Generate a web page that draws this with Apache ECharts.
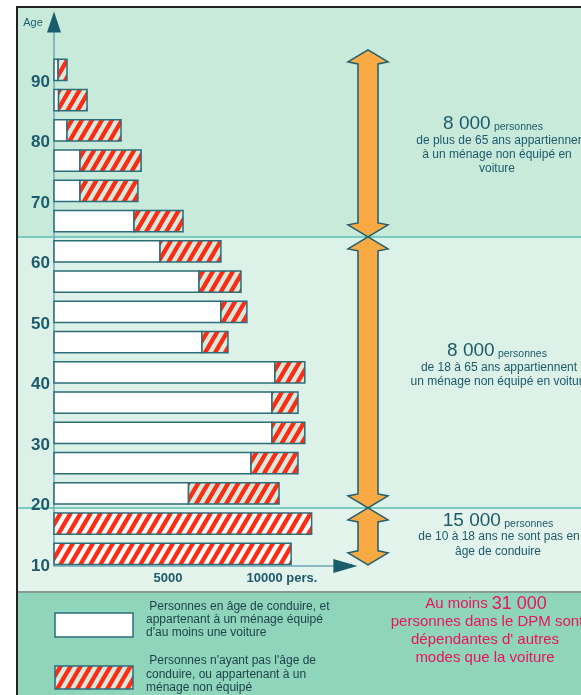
<!DOCTYPE html>
<html>
<head>
<meta charset="utf-8">
<script src="https://cdn.jsdelivr.net/npm/echarts@6/dist/echarts.min.js"></script>
<style>
html,body{margin:0;padding:0;background:#fff;}
#c{width:581px;height:695px;}
</style>
</head>
<body>
<div id="c"></div>
<script>
// ---- data (persons per 5-year age group) ----
const ageStarts = [10, 15, 20, 25, 30, 35, 40, 45, 50, 55, 60, 65, 70, 75, 80, 85, 90];
const withCar   = [0, 0, 5900, 8640, 9560, 9560, 9690, 6490, 7320, 6360, 4650, 3510, 1140, 1140, 570, 200, 180];
const withoutCar= [10400, 11300, 3970, 2060, 1440, 1140, 1310, 1140, 1140, 1840, 2670, 2150, 2540, 2680, 2370, 1250, 390];
const xTickLabels = {5000: '5000', 10000: '10000 pers.'};
const yTickValues = [10, 20, 30, 40, 50, 60, 70, 80, 90];
const groupBounds = [95.3, 64.4, 19.6, 10.2]; // ages bounding the three annotated groups

const TEAL = '#1d5a6a';
const OUTLINE = '#2d6c79';

function makeStripes(bg) {
  const w = 10, h = 17;
  const c = document.createElement('canvas');
  c.width = w; c.height = h;
  const g = c.getContext('2d');
  g.fillStyle = bg; g.fillRect(0, 0, w, h);
  g.fillStyle = '#ff2b12';
  for (const o of [-10, 0, 10]) {
    g.beginPath();
    g.moveTo(o, h); g.lineTo(o + 5, h); g.lineTo(o + 15, 0); g.lineTo(o + 10, 0);
    g.closePath(); g.fill();
  }
  return c;
}
const stripeGreen = makeStripes('#d3ecdf');
const stripeWhite = makeStripes('#ffffff');

const chart = echarts.init(document.getElementById('c'), null, {renderer: 'canvas'});

const data = ageStarts.map((a, i) => [a, withCar[i], withoutCar[i]]);

const option = {
  animation: false,
  backgroundColor: '#ffffff',
  grid: {left: 54, width: 296.4, top: 21.5, bottom: 129, containLabel: false},
  xAxis: {
    type: 'value', min: 0, max: 13000, interval: 5000,
    splitLine: {show: false},
    axisTick: {show: false},
    axisLine: {show: true, lineStyle: {color: '#6fa8b4', width: 1.5}},
    axisLabel: {
      show: true, margin: 6,
      color: TEAL, fontSize: 13, fontWeight: 'bold', fontFamily: 'Liberation Sans',
      formatter: v => xTickLabels[v] || ''
    }
  },
  yAxis: {
    type: 'value', min: 10, max: 100, interval: 10,
    splitLine: {show: false},
    axisTick: {show: false},
    axisLine: {show: true, lineStyle: {color: '#6fa8b4', width: 1.5}},
    axisLabel: {
      show: true, margin: 4,
      color: TEAL, fontSize: 17, fontWeight: 'bold', fontFamily: 'Liberation Sans',
      formatter: v => (yTickValues.indexOf(v) >= 0 ? String(v) : '')
    }
  },
  series: [{
    type: 'custom',
    z: 5,
    data: data,
    encode: {x: [1, 2], y: 0},
    renderItem: function (params, api) {
      const a = api.value(0), w = api.value(1), r = api.value(2);
      const h = api.size([0, 3.5])[1];
      const yc = api.coord([0, a + 2])[1];
      const x0 = api.coord([0, a])[0];
      const x1 = api.coord([w, a])[0];
      const x2 = api.coord([w + r, a])[0];
      const y = yc - h / 2;
      const pat = a < 20 ? stripeWhite : stripeGreen;
      const children = [];
      if (w > 0) {
        children.push({type: 'rect', shape: {x: x0, y: y, width: x1 - x0, height: h},
          style: {fill: '#ffffff', stroke: OUTLINE, lineWidth: 1.5}});
      }
      children.push({type: 'rect', shape: {x: x1, y: y, width: x2 - x1, height: h},
        style: {fill: {image: pat, repeat: 'repeat'}, stroke: OUTLINE, lineWidth: 1.5}});
      return {type: 'group', children: children};
    }
  }]
};
chart.setOption(option);

// ---- decorations placed from the axes ----
const py = age => chart.convertToPixel({gridIndex: 0}, [0, age])[1];
const px = v => chart.convertToPixel({gridIndex: 0}, [v, 10])[0];
const yTop = py(100), yOrig = py(10), xOrig = px(0), xEnd = px(13000);
const yB = groupBounds.map(py);

const W = 581, H = 695, LEFT = 17, TOPB = 7, LEG = 592;
const graphics = [];
// backgrounds
graphics.push({type: 'rect', z: -10, shape: {x: LEFT, y: TOPB, width: W - LEFT, height: yB[1] - TOPB}, style: {fill: '#c8eadb'}});
graphics.push({type: 'rect', z: -10, shape: {x: LEFT, y: yB[1], width: W - LEFT, height: yB[2] - yB[1]}, style: {fill: '#dcf1e7'}});
graphics.push({type: 'rect', z: -10, shape: {x: LEFT, y: yB[2], width: W - LEFT, height: LEG - yB[2]}, style: {fill: '#e2f4ec'}});
graphics.push({type: 'rect', z: -10, shape: {x: LEFT, y: LEG, width: W - LEFT, height: H - LEG}, style: {fill: '#8fd5bb'}});
graphics.push({type: 'line', z: -5, shape: {x1: LEFT, y1: LEG, x2: W, y2: LEG}, style: {stroke: '#8a9a95', lineWidth: 2}});
// dividers
[yB[1], yB[2]].forEach(yy => graphics.push({type: 'line', z: -5, shape: {x1: LEFT, y1: yy, x2: W, y2: yy}, style: {stroke: '#5cbfb0', lineWidth: 1.5}}));
// frame
graphics.push({type: 'line', z: 50, shape: {x1: LEFT - 1, y1: TOPB, x2: W, y2: TOPB}, style: {stroke: '#222', lineWidth: 2}});
graphics.push({type: 'line', z: 50, shape: {x1: LEFT, y1: TOPB, x2: LEFT, y2: H}, style: {stroke: '#222', lineWidth: 2}});
// axis arrow heads
graphics.push({type: 'polygon', z: 20, shape: {points: [[xOrig, yTop - 10], [xOrig + 7, yTop + 11], [xOrig - 7, yTop + 11]]}, style: {fill: '#1b5c6c'}});
graphics.push({type: 'polygon', z: 20, shape: {points: [[xEnd + 7, yOrig], [xEnd - 17, yOrig - 7], [xEnd - 17, yOrig + 7]]}, style: {fill: '#1b5c6c'}});
graphics.push({type: 'text', z: 20, style: {text: 'Age', x: 33, y: 23, fill: TEAL, font: '11px "Liberation Sans"', align: 'center', verticalAlign: 'middle'}});

// double arrows
function dblArrow(cx, t, b) {
  return {type: 'polygon', z: 10, shape: {points: [
    [cx, t], [cx + 20, t + 12], [cx + 10, t + 14], [cx + 10, b - 14], [cx + 20, b - 12],
    [cx, b], [cx - 20, b - 12], [cx - 10, b - 14], [cx - 10, t + 14], [cx - 20, t + 12]
  ]}, style: {fill: '#f9aa45', stroke: '#1f5e6c', lineWidth: 1.5, lineJoin: 'miter'}};
}
graphics.push(dblArrow(368, yB[0], yB[1]));
graphics.push(dblArrow(368, yB[1], yB[2]));
graphics.push(dblArrow(368, yB[2], yB[3]));

// annotation texts
const F = '"Liberation Sans"';
function txt(t, x, y, size, color, align, weight) {
  return {type: 'text', z: 20, style: {text: t, x: x, y: y, fill: color, font: (weight || 'normal') + ' ' + size + 'px ' + F, align: align || 'center', verticalAlign: 'middle'}};
}
function headline(big, x, y) {
  return {type: 'text', z: 20, style: {
    text: '{a|' + big + '} {b|personnes}', x: x, y: y, align: 'center', verticalAlign: 'middle',
    rich: {a: {fontSize: 19, fontFamily: 'Liberation Sans', fill: TEAL, color: TEAL},
           b: {fontSize: 10.5, fontFamily: 'Liberation Sans', fill: TEAL, color: TEAL, padding: [6, 0, 0, 0]}}
  }};
}
graphics.push(headline('8 000', 493, 124));
graphics.push(txt('de plus de 65 ans appartiennent', 502, 141, 12, TEAL));
graphics.push(txt('à un ménage non équipé en', 497, 155, 12, TEAL));
graphics.push(txt('voiture', 497, 169, 12, TEAL));

graphics.push(headline('8 000', 497, 351));
graphics.push(txt('de 18 à 65 ans appartiennent à', 504, 368, 12, TEAL));
graphics.push(txt('un ménage non équipé en voiture', 500, 382, 12, TEAL));

graphics.push(headline('15 000', 498, 521));
graphics.push(txt('de 10 à 18 ans ne sont pas en', 499, 537, 12, TEAL));
graphics.push(txt('âge de conduire', 498, 552, 12, TEAL));

// legend
graphics.push({type: 'rect', z: 20, shape: {x: 55, y: 613, width: 78, height: 24}, style: {fill: '#ffffff', stroke: OUTLINE, lineWidth: 1.5}});
graphics.push({type: 'rect', z: 20, shape: {x: 55, y: 666, width: 78, height: 23}, style: {fill: {image: stripeGreen, repeat: 'repeat'}, stroke: OUTLINE, lineWidth: 1.5}});
const LC = '#1c3f48';
graphics.push(txt(' Personnes en âge de conduire, et', 146, 607, 12, LC, 'left'));
graphics.push(txt('appartenant à un ménage équipé', 146, 620, 12, LC, 'left'));
graphics.push(txt('d\'au moins une voiture', 146, 633, 12, LC, 'left'));
graphics.push(txt(' Personnes n\'ayant pas l\'âge de', 146, 661, 12, LC, 'left'));
graphics.push(txt('conduire, ou appartenant à un', 146, 675, 12, LC, 'left'));
graphics.push(txt('ménage non équipé', 146, 688, 12, LC, 'left'));

const RC = '#e8155c';
graphics.push({type: 'text', z: 20, style: {
  text: '{a|Au moins }{b|31 000}', x: 486, y: 604, align: 'center', verticalAlign: 'middle',
  rich: {a: {fontSize: 15, fontFamily: 'Liberation Sans', fill: RC, color: RC},
         b: {fontSize: 18, fontFamily: 'Liberation Sans', fill: RC, color: RC}}
}});
graphics.push(txt('personnes dans le DPM sont', 487, 622, 15, RC));
graphics.push(txt('dépendantes d\' autres', 485, 640, 15, RC));
graphics.push(txt('modes que la voiture', 485, 658, 15, RC));

chart.setOption({graphic: graphics});
</script>
</body>
</html>
